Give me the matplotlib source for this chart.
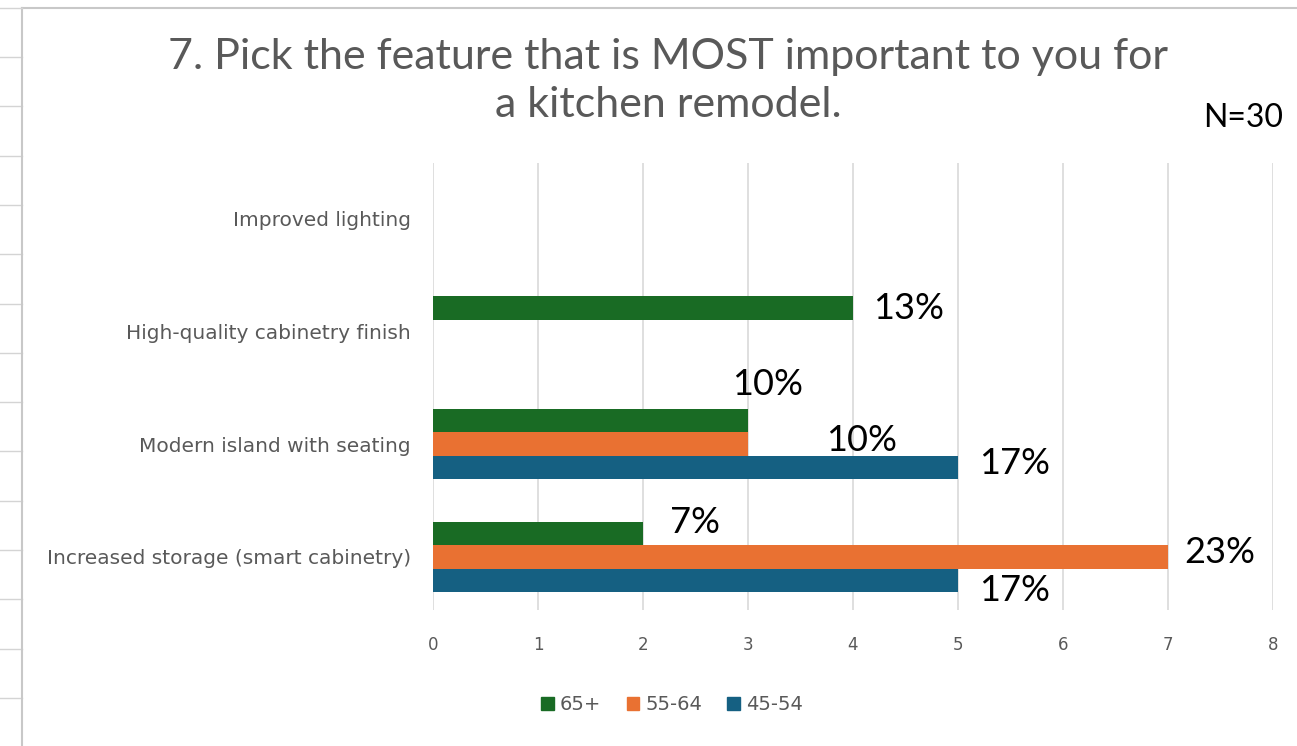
import matplotlib.pyplot as plt
from matplotlib.lines import Line2D
from matplotlib.patches import Patch

# survey data: counts per age group, N=30
categories = ['Increased storage (smart cabinetry)', 'Modern island with seating',
              'High-quality cabinetry finish', 'Improved lighting']
age_65_plus = [2, 3, 4, 0]
age_55_64 = [7, 3, 0, 0]
age_45_54 = [5, 5, 0, 0]
n_total = 30
x_ticks = [0, 1, 2, 3, 4, 5, 6, 7, 8]

green = '#196b24'
orange = '#e97132'
blue = '#156082'
gray = '#595959'

fig = plt.figure(figsize=(12.97, 7.46), dpi=100)

# spreadsheet background lines
for yy in range(0, 16):
    ypix = 57 + yy * 49.3
    fig.add_artist(Line2D([0, 22 / 1297], [1 - ypix / 746] * 2, color='#d4d4d4', lw=1))
fig.add_artist(Line2D([22 / 1297, 22 / 1297], [0, 1 - 8 / 746], color='#c8c8c8', lw=1.5))
fig.add_artist(Line2D([22 / 1297, 1], [1 - 8 / 746] * 2, color='#c8c8c8', lw=1.5))
fig.add_artist(Line2D([0, 22 / 1297], [1 - 8 / 746] * 2, color='#d4d4d4', lw=1))

ax = fig.add_axes([433 / 1297, 1 - 610 / 746, 840 / 1297, 447 / 746])

h = 0.205
ypos = list(range(len(categories)))
series = [(age_65_plus, green, '65+', h), (age_55_64, orange, '55-64', 0), (age_45_54, blue, '45-54', -h)]
for vals, col, lab, off in series:
    ax.barh([y + off for y in ypos], vals, height=h, color=col, label=lab)

# data label offsets in pixels (dx from bar end, dy from bar centre)
offsets = {
    '65+': [(52, 11), (20, 36), (56, 0), None],
    '55-64': [(52, 4), (114, 4), None, None],
    '45-54': [(57, -10), (57, 4), None, None],
}
for vals, col, lab, off in series:
    for i, v in enumerate(vals):
        if v == 0:
            continue
        dx, dy = offsets[lab][i]
        ax.annotate(f'{round(v / n_total * 100)}%', xy=(v, i + off),
                    xytext=(dx * 0.72, dy * 0.72), textcoords='offset points',
                    ha='center', va='center', fontsize=26, color='black', family='Lato')

ax.set_xlim(0, 8)
ax.set_ylim(-0.47, 3.49)
ax.set_xticks(x_ticks)
ax.set_xticklabels([str(t) for t in x_ticks], color=gray, fontsize=12)
ax.set_yticks(ypos)
ax.set_yticklabels(categories, color=gray, fontsize=14.5)
ax.tick_params(axis='both', length=0)
ax.tick_params(axis='x', pad=19)
ax.tick_params(axis='y', pad=16)
ax.grid(axis='x', color='#d9d9d9', lw=1.2)
ax.set_axisbelow(True)
for s in ax.spines.values():
    s.set_visible(False)

fig.text(668 / 1297, 1 - 57 / 746, '7. Pick the feature that is MOST important to you for',
         ha='center', va='center', fontsize=31, color=gray, family='Lato')
fig.text(668 / 1297, 1 - 105 / 746, 'a kitchen remodel.',
         ha='center', va='center', fontsize=31, color=gray, family='Lato')
fig.text(1243 / 1297, 1 - 118 / 746, 'N=30', ha='center', va='center',
         fontsize=23, color='black', family='Lato')

handles = [Patch(color=c, label=l) for _, c, l, _ in series]
fig.legend(handles=handles, loc='center', bbox_to_anchor=(672 / 1297, 1 - 705 / 746),
           ncol=3, frameon=False, fontsize=14, labelcolor=gray,
           handlelength=0.65, handleheight=0.65, handletextpad=0.3, columnspacing=1.3)

fig.savefig('out.png', dpi=100)
